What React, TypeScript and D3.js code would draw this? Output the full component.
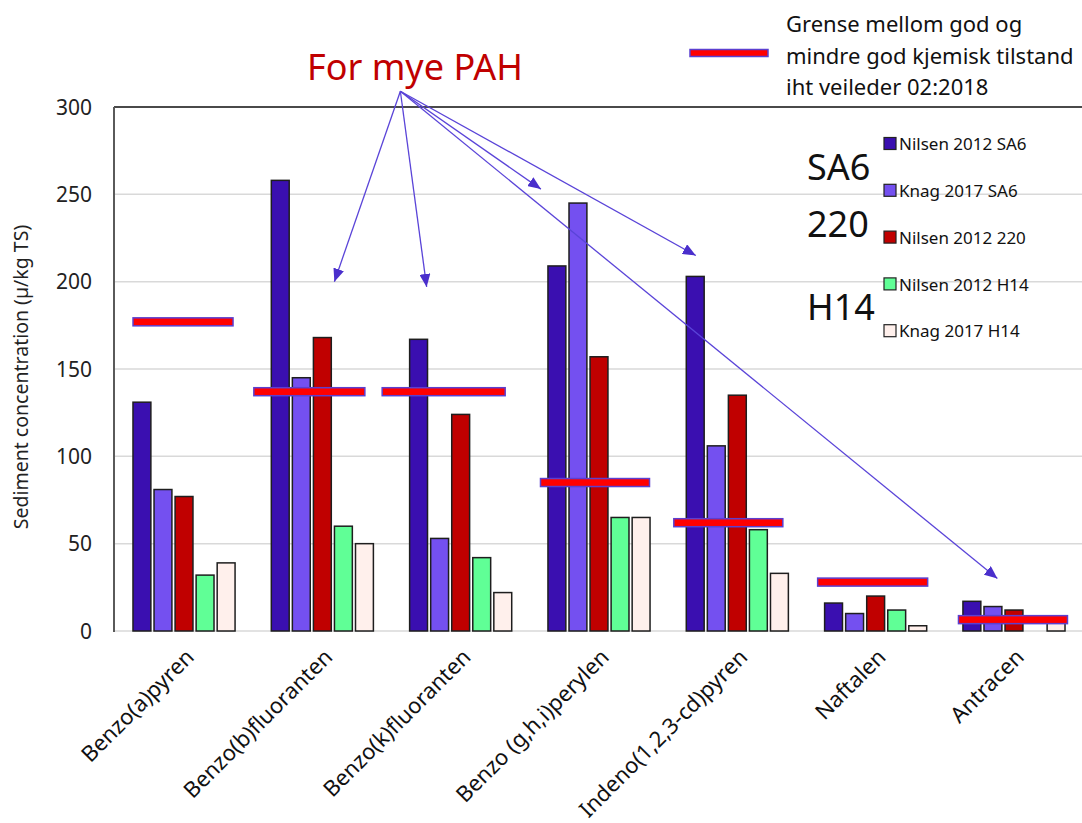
import React from "react";
import * as d3 from "d3";

const categories = [
  "Benzo(a)pyren",
  "Benzo(b)fluoranten",
  "Benzo(k)fluoranten",
  "Benzo (g,h,i)perylen",
  "Indeno(1,2,3-cd)pyren",
  "Naftalen",
  "Antracen",
];

const seriesNames = [
  "Nilsen 2012 SA6",
  "Knag 2017 SA6",
  "Nilsen 2012 220",
  "Nilsen 2012 H14",
  "Knag 2017 H14",
];

const nilsen2012SA6 = [131, 258, 167, 209, 203, 16, 17];
const knag2017SA6 = [81, 145, 53, 245, 106, 10, 14];
const nilsen2012_220 = [77, 168, 124, 157, 135, 20, 12];
const nilsen2012H14 = [32, 60, 42, 65, 58, 12, 0];
const knag2017H14 = [39, 50, 22, 65, 33, 3, 5];

const thresholds = [177, 137, 137, 85, 62, 28, 6.5];

const yTicks = [0, 50, 100, 150, 200, 250, 300];

const stationLabels = ["SA6", "220", "H14"];

const legendLines = [
  "Grense mellom god og",
  "mindre god kjemisk tilstand",
  "iht veileder 02:2018",
];

// annotation arrows: origin and targets in data terms (category, offset in steps, value)
const arrowOrigin = { cat: "Benzo(b)fluoranten", off: 0.564, value: 309 };
const arrowTargets = [
  { cat: "Benzo(b)fluoranten", off: 0.087, value: 200 },
  { cat: "Benzo(k)fluoranten", off: -0.246, value: 197 },
  { cat: "Benzo (g,h,i)perylen", off: -0.42, value: 253 },
  { cat: "Indeno(1,2,3-cd)pyren", off: -0.3, value: 215 },
  { cat: "Antracen", off: -0.12, value: 30 },
];

// layout tweaks for threshold bars (px)
const thresholdShiftPx = [-1, -13, -17, -4, -9, -3, -1];
const thresholdWidthPx = [100, 111, 123, 109, 109, 110, 109];

const colors = ["#3a0fb0", "#7450f0", "#c00000", "#60ff96", "#fff0ec"];

const FONT = "'Noto Sans', 'Open Sans', sans-serif";

export default function App() {
  const W = 1082;
  const H = 823;
  const plotLeft = 115;
  const plotRight = 1083;
  const plotTop = 107;
  const plotBottom = 631;

  const series = [nilsen2012SA6, knag2017SA6, nilsen2012_220, nilsen2012H14, knag2017H14];

  const x0 = d3
    .scaleBand<string>()
    .domain(categories)
    .range([plotLeft, plotRight])
    .paddingInner(0.262)
    .paddingOuter(0.13);

  const x1 = d3
    .scaleBand<string>()
    .domain(seriesNames)
    .range([0, x0.bandwidth()])
    .paddingInner(0.15);

  const y = d3.scaleLinear().domain([0, 300]).range([plotBottom, plotTop]);

  const center = (c: string) => (x0(c) as number) + x0.bandwidth() / 2;
  const step = x0.step();
  const ptX = (p: { cat: string; off: number }) => center(p.cat) + p.off * step;

  const ox = ptX(arrowOrigin);
  const oy = y(arrowOrigin.value);

  const arrowColor = "#5a44d8";

  return (
    <svg
      width={W}
      height={H}
      style={{ position: "absolute", left: 0, top: 0, background: "#fff" }}
      fontFamily={FONT}
    >
      <defs>
        <marker
          id="ah"
          viewBox="0 0 13 11"
          refX="13"
          refY="5.5"
          markerWidth="13"
          markerHeight="11"
          markerUnits="userSpaceOnUse"
          orient="auto"
        >
          <path d="M0,0 L13,5.5 L0,11 Z" fill="#4a2fcc" />
        </marker>
      </defs>

      {/* gridlines */}
      {yTicks
        .filter((t) => t < 300)
        .map((t) => (
          <line
            key={"g" + t}
            x1={plotLeft}
            x2={W}
            y1={y(t)}
            y2={y(t)}
            stroke="#d9d9d9"
            strokeWidth={1.5}
          />
        ))}

      {/* frame */}
      <line x1={plotLeft - 1} x2={W} y1={plotTop} y2={plotTop} stroke="#4a4a4a" strokeWidth={2} />
      <line x1={plotLeft - 1} x2={plotLeft - 1} y1={plotTop} y2={plotBottom + 1} stroke="#5a5a5a" strokeWidth={2} />

      {/* y ticks */}
      {yTicks.map((t) => (
        <text
          key={"t" + t}
          x={92}
          y={y(t)}
          dy="0.36em"
          textAnchor="end"
          fontSize={21}
          fill="#222"
        >
          {t}
        </text>
      ))}

      {/* y label */}
      <text
        transform={`translate(28, 377) rotate(-90)`}
        textAnchor="middle"
        fontSize={19.5}
        fill="#222"
      >
        Sediment concentration (µ/kg TS)
      </text>

      {/* bars */}
      {categories.map((c, ci) => (
        <g key={c} transform={`translate(${x0(c)},0)`}>
          {series.map((s, si) => (
            <rect
              key={si}
              x={x1(seriesNames[si])}
              y={y(s[ci])}
              width={x1.bandwidth()}
              height={plotBottom - y(s[ci])}
              fill={colors[si]}
              stroke={s[ci] > 0 ? "#1e1e1e" : "none"}
              strokeWidth={1.5}
            />
          ))}
        </g>
      ))}

      {/* threshold lines */}
      {categories.map((c, ci) => {
        const w = thresholdWidthPx[ci];
        const cx = center(c) + thresholdShiftPx[ci];
        return (
          <rect
            key={"th" + c}
            x={cx - w / 2}
            y={y(thresholds[ci]) - 4}
            width={w}
            height={8}
            fill="#ff0000"
            stroke="#5b3fd0"
            strokeWidth={1.5}
          />
        );
      })}

      {/* x labels */}
      {categories.map((c) => (
        <text
          key={"xl" + c}
          transform={`translate(${center(c) + 6}, ${plotBottom + 22}) rotate(-45)`}
          textAnchor="end"
          dy="0.35em"
          fontSize={22}
          fill="#111"
        >
          {c}
        </text>
      ))}

      {/* arrows */}
      {arrowTargets.map((t, i) => (
        <line
          key={"ar" + i}
          x1={ox}
          y1={oy}
          x2={ptX(t)}
          y2={y(t.value)}
          stroke={arrowColor}
          strokeWidth={1.3}
          markerEnd="url(#ah)"
        />
      ))}

      {/* For mye PAH */}
      <text x={307} y={80} fontSize={36} fill="#c00000">
        For mye PAH
      </text>

      {/* top legend */}
      <rect x={690} y={49.5} width={78} height={7} fill="#ff0000" stroke="#5b3fd0" strokeWidth={1.5} />
      {legendLines.map((l, i) => (
        <text key={"ll" + i} x={786} y={32 + i * 31.5} fontSize={22} fill="#111">
          {l}
        </text>
      ))}

      {/* station labels */}
      {stationLabels.map((s, i) => (
        <text key={"st" + s} x={807} y={[180, 237, 320][i]} fontSize={36} fill="#111">
          {s}
        </text>
      ))}

      {/* series legend */}
      {seriesNames.map((n, i) => {
        const cy = 144 + i * 46.8;
        return (
          <g key={"lg" + n}>
            <rect x={884} y={cy - 6.5} width={12} height={12} fill={colors[i]} stroke="#222" strokeWidth={1.2} />
            <text x={899} y={cy} dy="0.36em" fontSize={17} fill="#111">
              {n}
            </text>
          </g>
        );
      })}
    </svg>
  );
}
